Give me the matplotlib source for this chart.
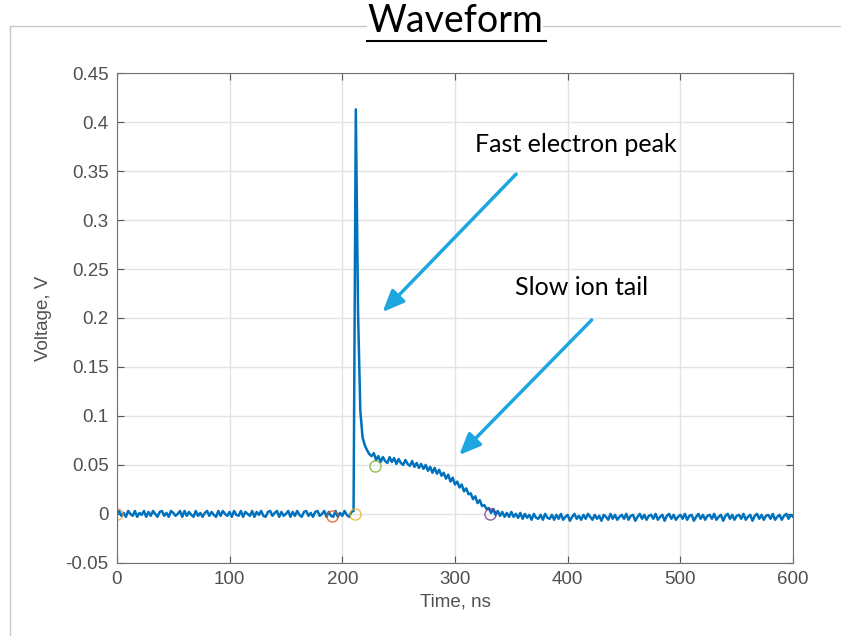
import numpy as np
import matplotlib.pyplot as plt
from matplotlib.lines import Line2D

# waveform samples, 2 ns apart starting at 0 ns, in mV
volt_mv = [
    0, 3, -2, 1, -3, 3, 0, -2, 3, -3,
    1, -1, 3, -3, 2, -2, 3, 0, -3, 2,
    3, -2, 1, -3, 3, 1, -2, 0, 3, -3,
    3, -2, 2, -1, -3, 3, -2, 1, -3, 1,
    3, -2, 2, -1, -3, 3, -2, 3, 0, -2,
    2, -3, 3, -1, -2, 3, -3, 2, 0, -2,
    3, -3, 2, -1, 3, -2, -3, 2, 3, -2,
    1, 3, -3, 2, -2, 0, 3, -3, 2, -2,
    3, -1, -3, 2, 3, -2, 1, -3, 2, 3,
    -2, 0, 3, -3, 2, -2, -3, 3, -3, 1,
    -2, 3, -1, -3, 2,
    3, 413, 205, 105, 78, 70, 65, 61, 59, 62,
    55, 59, 53, 58, 54, 52, 58, 53, 57, 51,
    56, 52, 50, 55, 51, 49, 54, 48, 52, 47,
    51, 46, 50, 44, 48, 42, 47, 41, 45, 39,
    42, 36, 40, 33, 37, 30, 33, 27, 30, 23,
    26, 20, 21, 15, 18, 11, 14, 8, 9, 5,
    6, 1, 5, -1, 3, -2, 2, -3, 1, -3,
    2, -3, 0, -4, 1, -5, 0, -4, -1, -6,
    0, -4, -5, -1, -6, 0, -4, -5, -1, -6,
    -1, -5, 0, -6, -3, -1, -7, -3, 0, -5,
    -2, -6, -1, -5, 0, -3, -6, -1, -5, -2,
    -7, -1, -3, -6, 0, -5, -1, -6, -3, -1,
    -5, 0, -6, -2, -1, -7, -3, 0, -5, -1,
    -6, -2, -1, -5, 0, -6, -3, -1, -7, -2,
    0, -5, -1, -6, -3, -1, -5, 0, -6, -2,
    -1, -7, -3, 0, -5, -1, -6, -2, -1, -5,
    0, -6, -3, -1, -7, -2, 0, -5, -1, -6,
    -2, -1, -5, 0, -6, -3, -1, -7, -2, 0,
    -5, -1, -6, -2, -1, -5, 0, -6, -3, -1,
    -6, -2, 0, -5, -1, -3,
]
time_ns = 2 * np.arange(len(volt_mv))
volt = np.array(volt_mv) / 1000.0

# circle markers found on the trace
mark_t = [0, 191, 211, 229, 331]
mark_v = [0.0, -0.002, 0.0, 0.049, 0.0]
mark_c = ['#EE9A55', '#D95319', '#EDB120', '#77AC30', '#7E2F8E']

xticks = [0, 100, 200, 300, 400, 500, 600]
yticks = [-0.05, 0, 0.05, 0.1, 0.15, 0.2, 0.25, 0.3, 0.35, 0.4, 0.45]
ytick_labels = ['-0.05', '0', '0.05', '0.1', '0.15', '0.2', '0.25', '0.3', '0.35', '0.4', '0.45']

fig = plt.figure(figsize=(8.41, 6.36), dpi=100)
ax = fig.add_axes([0.139, 0.115, 0.804, 0.770])

# light grey frame of the slide picture
fig.add_artist(Line2D([10/841, 1], [1 - 26/636, 1 - 26/636], color='#c8c8c8', lw=1))
fig.add_artist(Line2D([10/841, 10/841], [0, 1 - 26/636], color='#c8c8c8', lw=1))

ax.plot(time_ns, volt, color='#0072BD', lw=1.8)
for t, v, c in zip(mark_t, mark_v, mark_c):
    ax.plot(t, v, 'o', mfc='none', mec=c, ms=8, mew=1.0, alpha=0.8)

ax.set_xlim(0, 600)
ax.set_ylim(-0.05, 0.45)
ax.set_xticks(xticks)
ax.set_yticks(yticks)
ax.set_yticklabels(ytick_labels)
tickfont = dict(family='Liberation Sans', size=13.5)
for lab in ax.get_xticklabels() + ax.get_yticklabels():
    lab.set_fontfamily('Liberation Sans')
    lab.set_fontsize(13.5)
ax.tick_params(direction='in', length=5, colors='#555555', labelcolor='#505050',
               top=True, right=True, pad=6)
for s in ax.spines.values():
    s.set_color('#707070')
ax.grid(True, color='#e3e3e3', lw=1)
ax.set_axisbelow(True)
ax.set_xlabel('Time, ns', color='#505050', labelpad=4, **tickfont)
ax.set_ylabel('Voltage, V', color='#505050', labelpad=10, **tickfont)

# title with underline
title = fig.text(0.541, 1 - 21/636, 'Waveform', ha='center', va='center',
                 family='Lato', fontsize=27, color='black',
                 bbox=dict(facecolor='white', edgecolor='none', pad=0))
fig.add_artist(Line2D([367/841, 546/841], [1 - 41/636, 1 - 41/636], color='black', lw=1.5))

arrow_c = '#1EA6E0'
style = '-|>,head_length=1.3,head_width=0.55'
ax.annotate('', xy=(234, 0.204), xytext=(356, 0.349),
            arrowprops=dict(arrowstyle=style, color=arrow_c, lw=2.5))
ax.annotate('', xy=(302, 0.058), xytext=(423, 0.200),
            arrowprops=dict(arrowstyle=style, color=arrow_c, lw=2.5))
ax.text(318, 0.377, 'Fast electron peak', family='Lato', fontsize=18, va='center', ha='left')
ax.text(353, 0.231, 'Slow ion tail', family='Lato', fontsize=18, va='center', ha='left')

fig.savefig('out.png', dpi=100)
